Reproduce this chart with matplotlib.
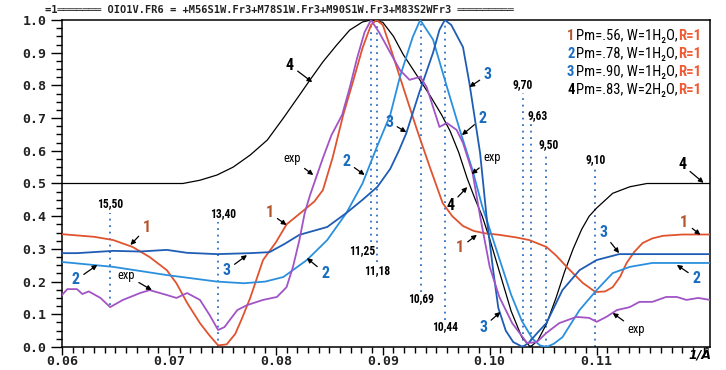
import numpy as np
import matplotlib
matplotlib.use("Agg")
import matplotlib.pyplot as plt
from matplotlib.ticker import MultipleLocator, FormatStrFormatter

# values, x in 1/A, y = normalised intensity
x1 = [0.0600, 0.0630, 0.0648, 0.0666, 0.0682, 0.0698, 0.0707, 0.0717, 0.0729, 0.0738,
      0.0746, 0.0754, 0.0762, 0.0768, 0.0776, 0.0788, 0.0800, 0.0810, 0.0825, 0.0836,
      0.0844, 0.0853, 0.0863, 0.0872, 0.0881, 0.0889, 0.0894, 0.0900, 0.0907, 0.0919,
      0.0932, 0.0944, 0.0956, 0.0965, 0.0975, 0.0985, 0.0995, 0.1009, 0.1025, 0.1037,
      0.1053, 0.1062, 0.1072, 0.1087, 0.1099, 0.1108, 0.1115, 0.1122, 0.1128, 0.1135,
      0.1143, 0.1152, 0.1162, 0.1180, 0.1206]
y1 = [0.345, 0.337, 0.327, 0.306, 0.275, 0.235, 0.195, 0.135, 0.073, 0.035,
      0.005, 0.008, 0.040, 0.085, 0.150, 0.266, 0.320, 0.375, 0.415, 0.445,
      0.480, 0.578, 0.710, 0.810, 0.914, 0.985, 1.000, 0.985, 0.917, 0.795,
      0.664, 0.550, 0.440, 0.400, 0.370, 0.355, 0.348, 0.343, 0.335, 0.327,
      0.306, 0.280, 0.245, 0.196, 0.168, 0.170, 0.183, 0.215, 0.257, 0.290,
      0.318, 0.332, 0.340, 0.344, 0.344]

x2 = [0.0600, 0.0648, 0.0698, 0.0745, 0.0770, 0.0790, 0.0807, 0.0829, 0.0848, 0.0866,
      0.0881, 0.0894, 0.0907, 0.0916, 0.0928, 0.0935, 0.0947, 0.0960, 0.0972, 0.0984,
      0.0993, 0.1001, 0.1010, 0.1020, 0.1030, 0.1040, 0.1047, 0.1053, 0.1060, 0.1068,
      0.1084, 0.1100, 0.1115, 0.1131, 0.1152, 0.1206]
y2 = [0.260, 0.245, 0.220, 0.200, 0.195, 0.200, 0.214, 0.266, 0.327, 0.410,
      0.500, 0.608, 0.710, 0.826, 0.948, 1.000, 0.940, 0.795, 0.664, 0.540,
      0.430, 0.350, 0.260, 0.160, 0.080, 0.025, 0.005, 0.000, 0.010, 0.030,
      0.113, 0.174, 0.226, 0.245, 0.257, 0.257]

x3 = [0.0600, 0.0614, 0.0648, 0.0673, 0.0698, 0.0717, 0.0745, 0.0776, 0.0794, 0.0808,
      0.0822, 0.0848, 0.0866, 0.0881, 0.0895, 0.0907, 0.0915, 0.0922, 0.0934, 0.0947,
      0.0953, 0.0958, 0.0964, 0.0975, 0.0981, 0.0991, 0.0997, 0.1003, 0.1008, 0.1015,
      0.1022, 0.1031, 0.1037, 0.1045, 0.1053, 0.1068, 0.1084, 0.1100, 0.1121, 0.1206]
y3 = [0.287, 0.287, 0.294, 0.292, 0.297, 0.288, 0.284, 0.287, 0.290, 0.315,
      0.343, 0.367, 0.410, 0.450, 0.490, 0.545, 0.600, 0.654, 0.777, 0.900,
      0.970, 1.000, 0.985, 0.917, 0.807, 0.593, 0.400, 0.240, 0.120, 0.050,
      0.015, 0.000, 0.015, 0.045, 0.073, 0.174, 0.235, 0.266, 0.284, 0.284]

x4 = [0.0600, 0.0650, 0.0682, 0.0713, 0.0729, 0.0745, 0.0760, 0.0776, 0.0792, 0.0807,
      0.0822, 0.0832, 0.0844, 0.0857, 0.0869, 0.0881, 0.0889, 0.0900, 0.0910, 0.0919,
      0.0932, 0.0944, 0.0955, 0.0963, 0.0971, 0.0979, 0.0986, 0.0993, 0.1000, 0.1010,
      0.1020, 0.1030, 0.1038, 0.1045, 0.1053, 0.1062, 0.1070, 0.1078, 0.1086, 0.1093,
      0.1100, 0.1115, 0.1131, 0.1147, 0.1206]
y4 = [0.500, 0.500, 0.500, 0.500, 0.510, 0.526, 0.550, 0.587, 0.633, 0.700,
      0.770, 0.817, 0.872, 0.924, 0.969, 0.994, 1.000, 0.993, 0.950, 0.895,
      0.830, 0.770, 0.710, 0.660, 0.595, 0.515, 0.455, 0.400, 0.330, 0.220,
      0.110, 0.030, 0.000, 0.020, 0.070, 0.150, 0.230, 0.300, 0.360, 0.400,
      0.425, 0.470, 0.490, 0.500, 0.500]

x_exp = [0.0600, 0.0605, 0.0614, 0.0619, 0.0625, 0.0636, 0.0645, 0.0657, 0.0673, 0.0682,
         0.0698, 0.0707, 0.0717, 0.0729, 0.0738, 0.0746, 0.0752, 0.0757, 0.0764, 0.0773,
         0.0788, 0.0801, 0.0810, 0.0816, 0.0822, 0.0827, 0.0832, 0.0844, 0.0852, 0.0862,
         0.0869, 0.0876, 0.0883, 0.0889, 0.0897, 0.0907, 0.0916, 0.0925, 0.0935, 0.0941,
         0.0947, 0.0953, 0.0960, 0.0969, 0.0975, 0.0984, 0.0991, 0.1000, 0.1009, 0.1021,
         0.1035, 0.1044, 0.1053, 0.1065, 0.1081, 0.1093, 0.1100, 0.1109, 0.1119, 0.1131,
         0.1140, 0.1152, 0.1165, 0.1175, 0.1184, 0.1195, 0.1206]
y_exp = [0.159, 0.177, 0.177, 0.162, 0.170, 0.150, 0.122, 0.144, 0.165, 0.174,
         0.159, 0.150, 0.165, 0.144, 0.098, 0.052, 0.061, 0.083, 0.113, 0.128,
         0.144, 0.153, 0.183, 0.245, 0.327, 0.410, 0.465, 0.578, 0.648, 0.710,
         0.792, 0.884, 0.963, 1.000, 0.960, 0.900, 0.847, 0.817, 0.826, 0.795,
         0.734, 0.673, 0.685, 0.664, 0.624, 0.532, 0.400, 0.245, 0.153, 0.073,
         0.012, 0.015, 0.043, 0.073, 0.092, 0.089, 0.077, 0.092, 0.113, 0.122,
         0.138, 0.138, 0.153, 0.153, 0.144, 0.150, 0.144]

# d-spacings (A) marked by dotted lines
d_marks = [15.50, 13.40, 11.25, 11.18, 10.69, 10.44, 9.70, 9.63, 9.50, 9.10]
d_texts = ["15,50", "13,40", "11,25", "11,18", "10,69", "10,44", "9,70", "9,63", "9,50", "9,10"]

legend_num = ["1", "2", "3", "4"]
legend_txt = ["Pm=.56, W=1H\u2082O,", "Pm=.78, W=1H\u2082O,", "Pm=.90, W=1H\u2082O,", "Pm=.83, W=2H\u2082O,"]
legend_r = ["R=1", "R=1", "R=1", "R=1"]

title = ("=1" + "\u2550" * 7 + " OIO1V.FR6 = +M56S1W.Fr3+M78S1W.Fr3+M90S1W.Fr3+M83S2WFr3 "
         + "\u2550" * 9)

c1, c2, c3, c4, ce = "#e0532f", "#2a90de", "#1f5db5", "black", "#a154c6"
lab1, lab23 = "#b4562c", "#1a6cc0"
fam = ["Roboto Condensed", "Liberation Sans Narrow", "Liberation Sans", "DejaVu Sans"]

fig = plt.figure(figsize=(7.26, 3.70), dpi=100)
ax = fig.add_axes([62 / 726, 23 / 370, 648 / 726, 327 / 370])

# dotted marks: (ymin, ymax) of line, label y, label x shift
mark_span = [(0.128, 0.41), (0.0, 0.382), (0.32, 1.0), (0.26, 1.0), (0.168, 1.0),
             (0.083, 1.0), (0.0, 0.777), (0.0, 0.688), (0.0, 0.596), (0.0, 0.55)]
mark_lab_y = [0.44, 0.407, 0.294, 0.235, 0.147, 0.061, 0.801, 0.709, 0.62, 0.572]
mark_lab_dx = [0, 0.0004, -0.0008, 0, 0, 0, 0, 0.0006, 0.0002, 0]
for d, t, (y0, y1_), ly, dx in zip(d_marks, d_texts, mark_span, mark_lab_y, mark_lab_dx):
    ax.plot([1 / d, 1 / d], [y0, y1_], color="#2f6fc4", lw=1.3, ls=(0, (1.0, 2.6)), zorder=1)
    ax.text(1 / d + dx, ly, t, ha="center", va="center", fontsize=8.3, weight="bold",
            family=fam)

ax.plot(x4, y4, color=c4, lw=0.9, zorder=3)
ax.plot(x1, y1, color=c1, lw=1.3, zorder=3)
ax.plot(x2, y2, color=c2, lw=1.3, zorder=3)
ax.plot(x3, y3, color=c3, lw=1.3, zorder=3)
ax.plot(x_exp, y_exp, color=ce, lw=1.3, zorder=3)

# curve labels with arrows: text, colour, text pos, arrow tip
tags = [
    ("4", c4, (0.0813, 0.862), (0.0834, 0.810)),
    ("4", c4, (0.1180, 0.557), (0.1200, 0.502)),
    ("1", lab1, (0.0679, 0.364), (0.0664, 0.312)),
    ("2", lab23, (0.0613, 0.205), (0.0633, 0.251)),
    ("exp", c4, (0.0660, 0.220), (0.0684, 0.174)),
    ("3", lab23, (0.0754, 0.235), (0.0773, 0.281)),
    ("1", lab1, (0.0794, 0.410), (0.0810, 0.373)),
    ("2", lab23, (0.0846, 0.226), (0.0829, 0.272)),
    ("exp", c4, (0.0815, 0.575), (0.0835, 0.526)),
    ("2", lab23, (0.0866, 0.566), (0.0883, 0.526)),
    ("3", lab23, (0.0906, 0.688), (0.0922, 0.657)),
    ("3", lab23, (0.0998, 0.832), (0.0981, 0.795)),
    ("2", lab23, (0.0993, 0.700), (0.0974, 0.648)),
    ("exp", c4, (0.1002, 0.578), (0.0983, 0.529)),
    ("4", c4, (0.0963, 0.434), (0.0979, 0.489)),
    ("1", lab1, (0.0972, 0.303), (0.0988, 0.343)),
    ("3", lab23, (0.0994, 0.061), (0.1010, 0.107)),
    ("3", lab23, (0.1106, 0.349), (0.1121, 0.287)),
    ("1", lab1, (0.1182, 0.382), (0.1197, 0.343)),
    ("2", lab23, (0.1193, 0.211), (0.1175, 0.251)),
    ("exp", c4, (0.1137, 0.052), (0.1115, 0.104)),
]
for txt, col, pos, tip in tags:
    big = txt != "exp"
    ax.annotate(txt, xy=tip, xytext=pos, ha="center", va="center", color=col,
                fontsize=11.5 if big else 9, weight="bold" if big else "normal",
                family=fam,
                arrowprops=dict(arrowstyle="-|>", color="black", lw=0.9,
                                mutation_scale=7, shrinkA=1, shrinkB=0), zorder=5)

ax.set_xlim(0.06, 0.1206)
ax.set_ylim(0, 1.0)
ax.set_xticks([0.06, 0.07, 0.08, 0.09, 0.10, 0.11])
ax.set_xticklabels(["0.06", "0.07", "0.08", "0.09", "0.10", "0.11"])
ax.xaxis.set_minor_locator(MultipleLocator(0.001))
ax.yaxis.set_major_locator(MultipleLocator(0.1))
ax.yaxis.set_major_formatter(FormatStrFormatter("%.1f"))
ax.yaxis.set_minor_locator(MultipleLocator(0.025))
ax.tick_params(axis="x", which="major", direction="out", length=6, width=1, pad=0)
ax.tick_params(axis="y", which="major", direction="out", length=8, width=1, pad=3)
ax.tick_params(which="minor", direction="out", length=4, width=1)
for lab in ax.get_xticklabels() + ax.get_yticklabels():
    lab.set_family("DejaVu Sans Mono")
    lab.set_weight("bold")
    lab.set_fontsize(9.5)
    lab.set_color("#222222")
for sp in ax.spines.values():
    sp.set_linewidth(1.1)

fig.text(45 / 726, 1 - 10 / 370, title, ha="left", va="center", fontsize=7.5,
         weight="bold", family="DejaVu Sans Mono", color="#222222")
fig.text(700 / 726, 1 - 355 / 370, "1/\u00c5", ha="center", va="center", fontsize=9,
         style="italic", weight="bold", family="DejaVu Sans")

# legend rows built piece by piece in pixels, font size fitted to the row width
fig.canvas.draw()
rend = fig.canvas.get_renderer()
probe = [fig.text(0, 0, s, fontsize=11, weight=w, family=fam)
         for s, w in [("1", "bold"), (legend_txt[0], "normal"), ("R=1", "bold")]]
full = sum(p.get_window_extent(renderer=rend).width for p in probe) + 2
for p in probe:
    p.remove()
lsize = 11 * 134 / full
row_y = [40, 58, 76, 94]
for n, t, r, py in zip(legend_num, legend_txt, legend_r, row_y):
    px = 567
    col_n = lab1 if n == "1" else (lab23 if n in ("2", "3") else "black")
    for s, col, w in [(n, col_n, "bold"), (t, "black", "normal"), (r, "#f05a32", "bold")]:
        tt = fig.text(px / 726, 1 - py / 370, s, ha="left", va="baseline", fontsize=lsize,
                      color=col, weight=w, family=fam)
        px += tt.get_window_extent(renderer=rend).width + (2 if s == n else 0)

fig.savefig("out.png", dpi=100)
